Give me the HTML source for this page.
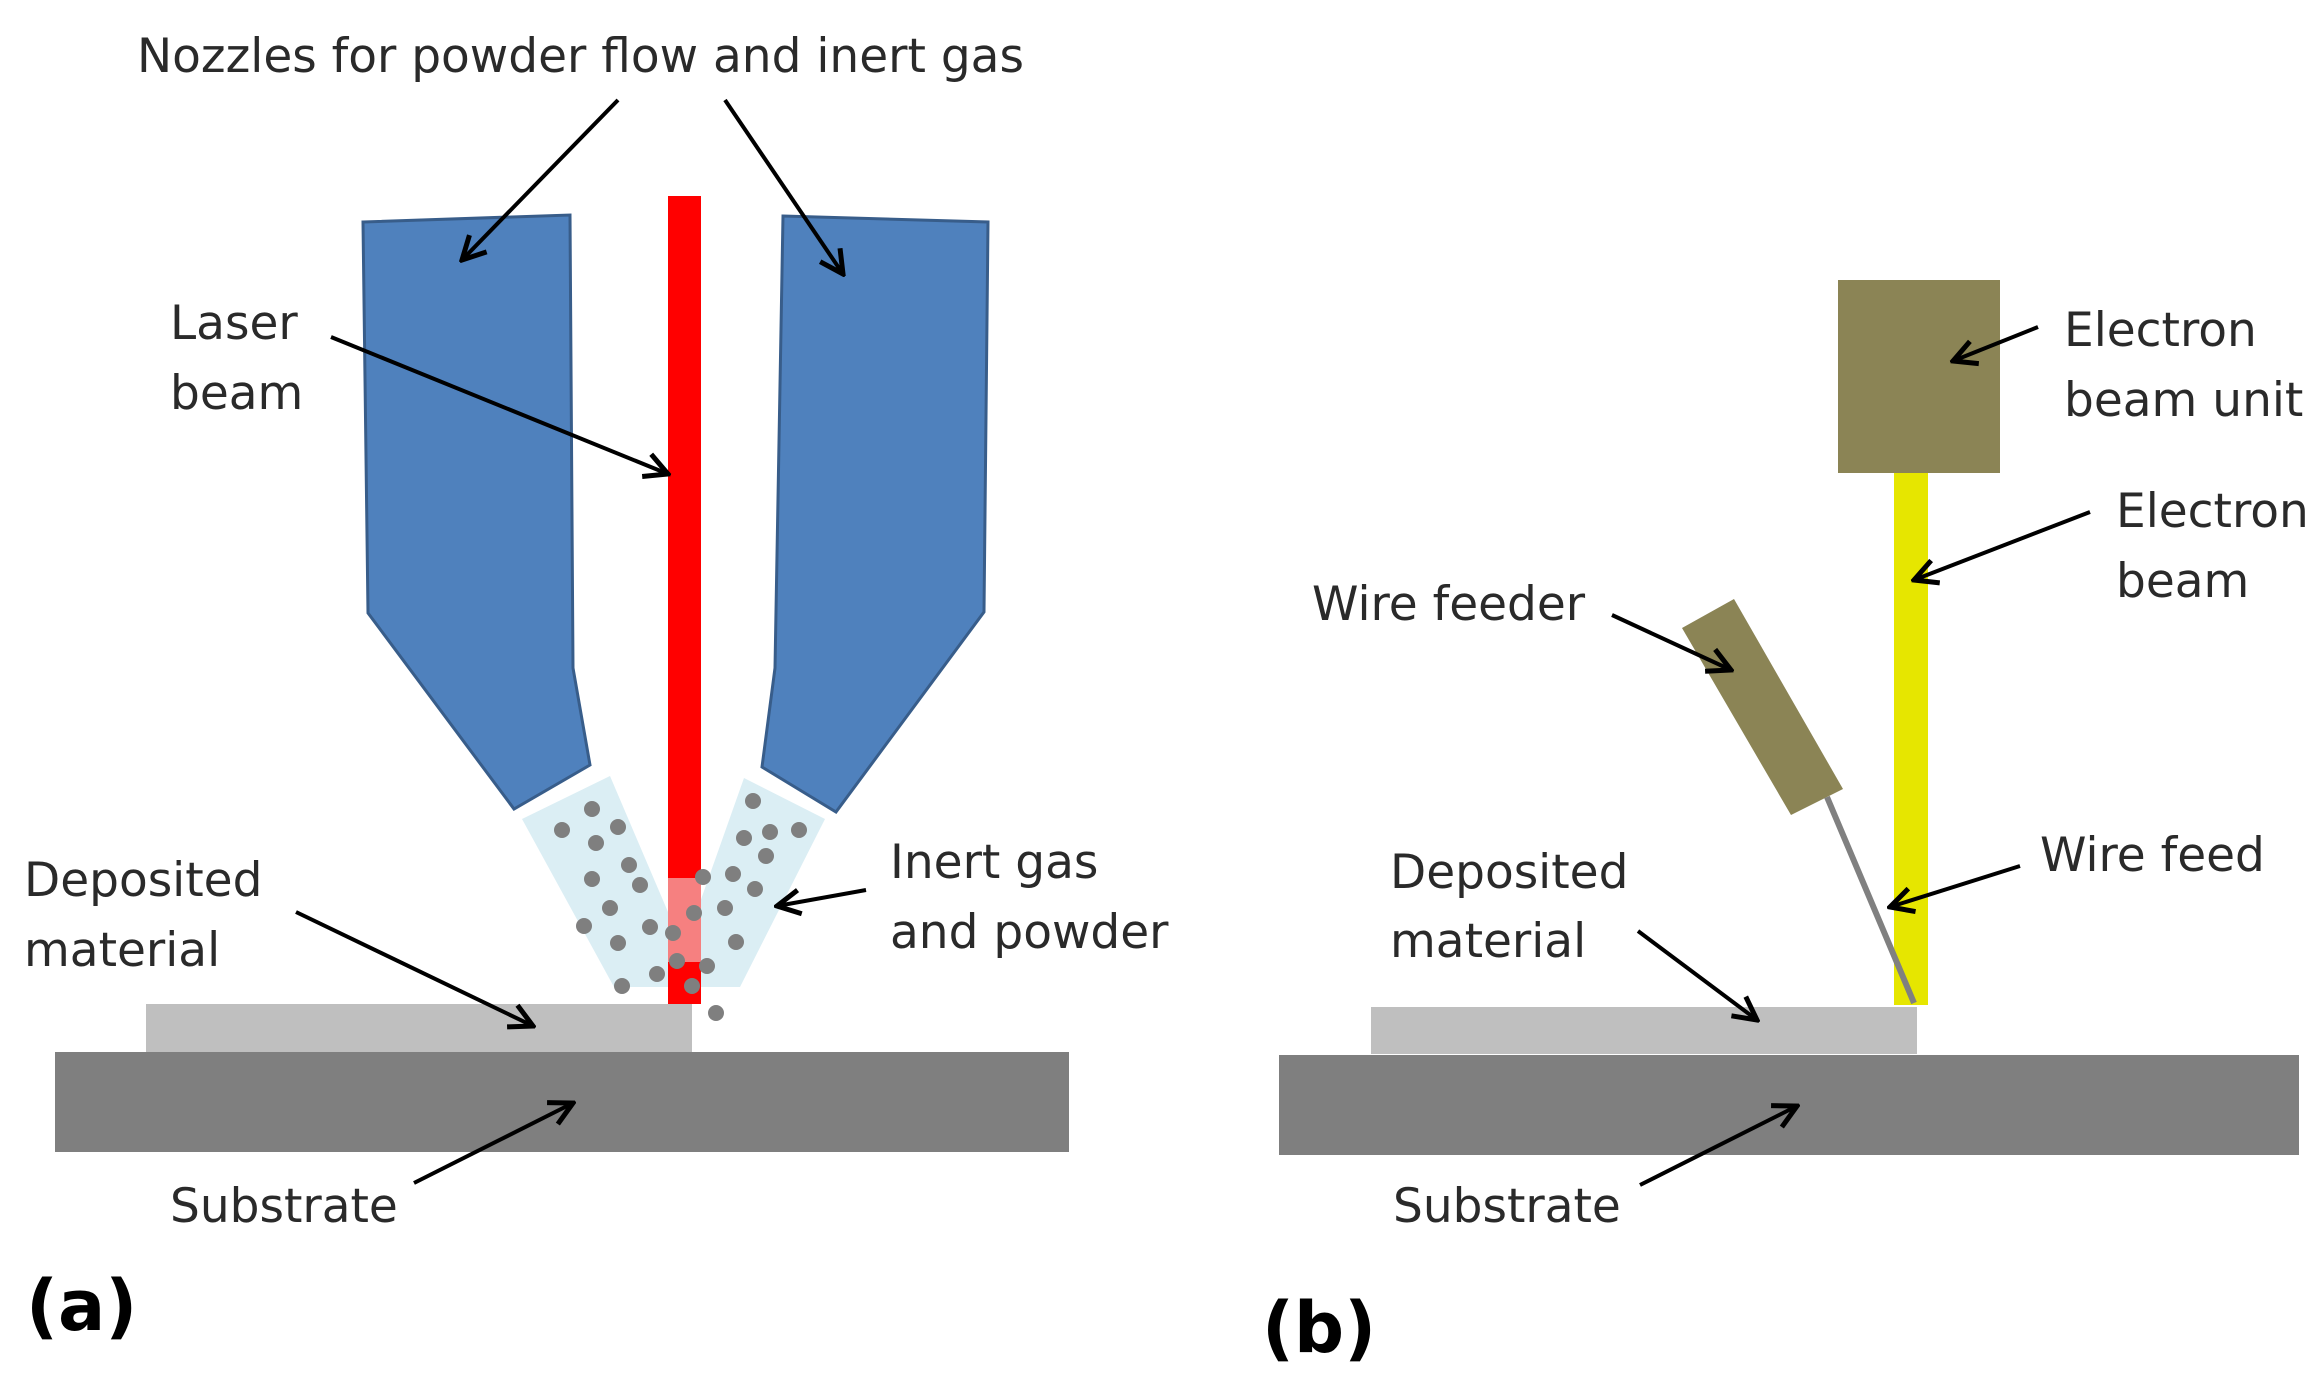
<!DOCTYPE html>
<html><head><meta charset="utf-8"><style>
html,body{margin:0;padding:0;background:#fff;}
svg{display:block;}
text{font-family:"DejaVu Sans","Liberation Sans",sans-serif;fill:#2a2a2a;font-size:47px;}
</style></head><body>
<svg width="2315" height="1395" viewBox="0 0 2315 1395" xmlns="http://www.w3.org/2000/svg">
<defs>
<marker id="a" markerWidth="30" markerHeight="30" refX="27" refY="15" orient="auto" markerUnits="userSpaceOnUse"><path d="M4,3 L27,15 L4,27" fill="none" stroke="#000" stroke-width="5"/></marker></defs>
<!-- panel a -->
<polygon points="522,819 610,776 700,987 614,987" fill="#dbeef4"/>
<polygon points="744,778 825,819 740,987 670,987" fill="#dbeef4"/>
<polygon points="363,222 570,215 573,668 590,765 514,809 368,613" fill="#4f81bd" stroke="#385d8a" stroke-width="3"/>
<polygon points="783,216 988,222 984,612 836,812 762,767 775,668" fill="#4f81bd" stroke="#385d8a" stroke-width="3"/>
<rect x="668" y="196" width="33" height="808" fill="#ff0000"/>
<rect x="668" y="878" width="33" height="84" fill="#f4a0a0" opacity="0.8"/>
<g fill="#7f7f7f">
<circle cx="562" cy="830" r="8"/><circle cx="592" cy="809" r="8"/><circle cx="618" cy="827" r="8"/><circle cx="596" cy="843" r="8"/><circle cx="629" cy="865" r="8"/><circle cx="592" cy="879" r="8"/><circle cx="640" cy="885" r="8"/><circle cx="610" cy="908" r="8"/><circle cx="584" cy="926" r="8"/><circle cx="618" cy="943" r="8"/><circle cx="650" cy="927" r="8"/><circle cx="673" cy="933" r="8"/><circle cx="622" cy="986" r="8"/><circle cx="657" cy="974" r="8"/><circle cx="692" cy="986" r="8"/><circle cx="716" cy="1013" r="8"/>
<circle cx="753" cy="801" r="8"/><circle cx="744" cy="838" r="8"/><circle cx="770" cy="832" r="8"/><circle cx="799" cy="830" r="8"/><circle cx="766" cy="856" r="8"/><circle cx="733" cy="874" r="8"/><circle cx="703" cy="877" r="8"/><circle cx="755" cy="889" r="8"/><circle cx="694" cy="913" r="8"/><circle cx="725" cy="908" r="8"/><circle cx="736" cy="942" r="8"/><circle cx="707" cy="966" r="8"/><circle cx="677" cy="961" r="8"/>
</g>
<rect x="146" y="1004" width="546" height="48" fill="#bfbfbf"/>
<rect x="55" y="1052" width="1014" height="100" fill="#7f7f7f"/>
<g stroke="#000" stroke-width="4" marker-end="url(#a)" fill="none">
<line x1="618" y1="100" x2="462" y2="260"/>
<line x1="725" y1="100" x2="843" y2="274"/>
<line x1="331" y1="337" x2="668" y2="474"/>
<line x1="866" y1="890" x2="777" y2="906"/>
<line x1="296" y1="912" x2="533" y2="1026"/>
<line x1="414" y1="1183" x2="573" y2="1103"/>
</g>
<text x="137" y="72">Nozzles for powder flow and inert gas</text>
<text x="170" y="339">Laser</text><text x="170" y="409">beam</text>
<text x="24" y="896">Deposited</text><text x="24" y="966">material</text>
<text x="890" y="878">Inert gas</text><text x="890" y="948">and powder</text>
<text x="170" y="1222">Substrate</text>
<text x="26" y="1330" style="font-size:70px;font-weight:bold;fill:#000">(a)</text>
<!-- panel b -->
<rect x="1838" y="280" width="162" height="193" fill="#8b8455"/>
<rect x="1894" y="473" width="34" height="532" fill="#e6e600"/>
<polygon points="1682,628 1734,599 1843,789 1791,815" fill="#8b8455"/>
<line x1="1827" y1="797" x2="1914" y2="1003" stroke="#808080" stroke-width="6"/>
<rect x="1371" y="1007" width="546" height="47" fill="#bfbfbf"/>
<rect x="1279" y="1055" width="1020" height="100" fill="#7f7f7f"/>
<g stroke="#000" stroke-width="4" marker-end="url(#a)" fill="none">
<line x1="2038" y1="327" x2="1953" y2="361"/>
<line x1="2090" y1="512" x2="1914" y2="580"/>
<line x1="1612" y1="615" x2="1731" y2="670"/>
<line x1="2020" y1="866" x2="1890" y2="907"/>
<line x1="1638" y1="931" x2="1757" y2="1020"/>
<line x1="1640" y1="1185" x2="1797" y2="1106"/>
</g>
<text x="2064" y="346">Electron</text><text x="2064" y="416">beam unit</text>
<text x="2116" y="527">Electron</text><text x="2116" y="597">beam</text>
<text x="1312" y="620">Wire feeder</text>
<text x="2040" y="871">Wire feed</text>
<text x="1390" y="888">Deposited</text><text x="1390" y="957">material</text>
<text x="1393" y="1222">Substrate</text>
<text x="1262" y="1352" style="font-size:70px;font-weight:bold;fill:#000">(b)</text>
</svg>
</body></html>
